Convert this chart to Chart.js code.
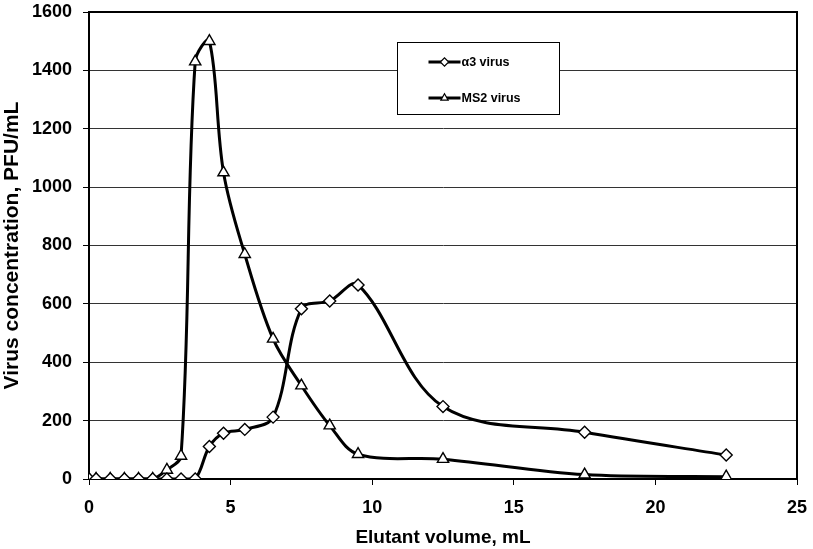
<!DOCTYPE html>
<html>
<head>
<meta charset="utf-8">
<script src="https://cdn.jsdelivr.net/npm/chart.js@4"></script>
<style>
  html, body { margin: 0; padding: 0; background: #fff; }
  #wrap { width: 813px; height: 549px; position: relative; }
</style>
</head>
<body>
<div id="wrap"><canvas id="c" width="813" height="549"></canvas></div>
<script>
// ---- data ----
const volumes = [0, 0.25, 0.75, 1.25, 1.75, 2.25, 2.75, 3.25, 3.75, 4.25, 4.75, 5.5, 6.5, 7.5, 8.5, 9.5, 12.5, 17.5, 22.5];
const alpha3 = [0, 0, 0, 0, 0, 0, 0, 0, 0, 111, 157, 170, 212, 583, 610, 665, 248, 160, 82];
const ms2    = [0, 0, 0, 0, 0, 0, 31, 79, 1430, 1500, 1050, 770, 480, 320, 183, 85, 68, 15, 8];
const seriesLabels = ['\u03b13 virus', 'MS2 virus'];
const xTicks = [0, 5, 10, 15, 20, 25];
const yTicks = [0, 200, 400, 600, 800, 1000, 1200, 1400, 1600];

const FONT = "'Liberation Sans', Arial, sans-serif";

function pts(xs, ys) { return xs.map((x, i) => ({ x: x, y: ys[i] })); }

const borderPlugin = {
  id: 'frame',
  afterDatasetsDraw(chart) {
    const { ctx, chartArea: a } = chart;
    ctx.save();
    ctx.strokeStyle = '#000';
    ctx.lineWidth = 2;
    ctx.beginPath();
    ctx.moveTo(a.left, a.top);
    ctx.lineTo(a.right, a.top);
    ctx.lineTo(a.right, a.bottom);
    ctx.stroke();
    ctx.restore();
  }
};

const legendPlugin = {
  id: 'boxLegend',
  afterDraw(chart) {
    const { ctx, chartArea: a } = chart;
    const bx = a.left + 308.5, by = a.top + 30.5, bw = 162, bh = 72;
    ctx.save();
    ctx.fillStyle = '#fff';
    ctx.fillRect(bx, by, bw, bh);
    ctx.strokeStyle = '#000';
    ctx.lineWidth = 1;
    ctx.strokeRect(bx, by, bw, bh);
    const rows = [by + 19.5, by + 55.5];
    chart.data.datasets.forEach((ds, i) => {
      const y = rows[i];
      const x0 = bx + 31, x1 = bx + 63;
      ctx.strokeStyle = '#000';
      ctx.lineWidth = 3;
      ctx.beginPath();
      ctx.moveTo(x0, y);
      ctx.lineTo(x1, y);
      ctx.stroke();
      ctx.lineWidth = 1.2;
      ctx.fillStyle = '#fff';
      Chart.helpers.drawPoint(ctx, { pointStyle: ds.pointStyle, radius: 4.2, rotation: 0, borderWidth: 1.2 }, (x0 + x1) / 2, y);
      ctx.fillStyle = '#000';
      ctx.font = 'bold 12.5px ' + FONT;
      ctx.textBaseline = 'middle';
      ctx.textAlign = 'left';
      ctx.fillText(ds.label, x1 + 1, y + 1);
    });
    ctx.restore();
  }
};

new Chart(document.getElementById('c'), {
  type: 'line',
  data: {
    datasets: [
      {
        label: seriesLabels[0],
        data: pts(volumes, alpha3),
        borderColor: '#000',
        borderWidth: 3,
        pointStyle: 'rectRot',
        pointRadius: 6,
        pointBackgroundColor: '#fff',
        pointBorderColor: '#000',
        pointBorderWidth: 1.4,
        tension: 0.35,
        fill: false
      },
      {
        label: seriesLabels[1],
        data: pts(volumes, ms2),
        borderColor: '#000',
        borderWidth: 3,
        pointStyle: 'triangle',
        pointRadius: 6.5,
        pointBackgroundColor: '#fff',
        pointBorderColor: '#000',
        pointBorderWidth: 1.4,
        tension: 0.35,
        fill: false
      }
    ]
  },
  options: {
    responsive: false,
    animation: false,
    events: [],
    layout: { padding: { top: 12, right: 16, bottom: 0, left: 0 } },
    plugins: {
      legend: { display: false },
      tooltip: { enabled: false }
    },
    scales: {
      x: {
        type: 'linear',
        min: 0,
        max: 25,
        afterBuildTicks(scale) { scale.ticks = xTicks.map(v => ({ value: v })); },
        afterFit(scale) { scale.height = 70; scale.paddingLeft = 0; scale.paddingRight = 0; },
        ticks: {
          color: '#000',
          padding: 12,
          callback: v => String(v),
          font: { family: FONT, size: 18, weight: 'bold' }
        },
        grid: {
          drawOnChartArea: false,
          drawTicks: true,
          tickLength: 6,
          tickColor: '#000',
          tickWidth: 1
        },
        border: { display: true, color: '#000', width: 2 },
        title: {
          display: true,
          text: 'Elutant volume, mL',
          color: '#000',
          font: { family: FONT, size: 19, weight: 'bold' },
          padding: { top: 0, bottom: 0 }
        }
      },
      y: {
        type: 'linear',
        min: 0,
        max: 1600,
        afterBuildTicks(scale) { scale.ticks = yTicks.map(v => ({ value: v })); },
        afterFit(scale) { scale.width = 89; scale.paddingTop = 0; scale.paddingBottom = 0; },
        ticks: {
          color: '#000',
          padding: 11,
          callback: v => String(v),
          font: { family: FONT, size: 18, weight: 'bold' }
        },
        grid: {
          drawOnChartArea: true,
          color: '#333',
          lineWidth: 1,
          drawTicks: true,
          tickLength: 6,
          tickColor: '#000',
          tickWidth: 1
        },
        border: { display: true, color: '#000', width: 2 },
        title: {
          display: true,
          text: 'Virus concentration, PFU/mL',
          color: '#000',
          font: { family: FONT, size: 21, weight: 'bold' },
          padding: { top: 0, bottom: 0 }
        }
      }
    }
  },
  plugins: [borderPlugin, legendPlugin]
});
</script>
</body>
</html>
